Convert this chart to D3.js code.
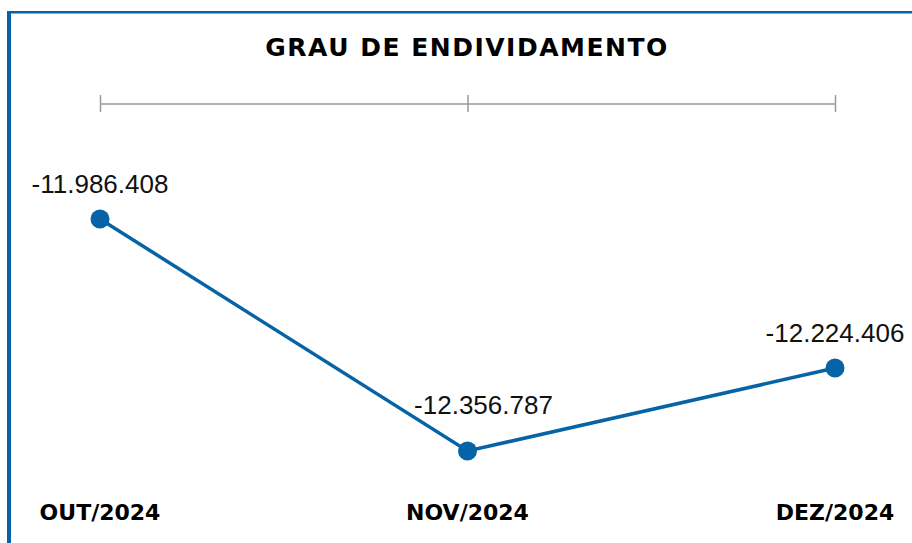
<!DOCTYPE html>
<html>
<head>
<meta charset="utf-8">
<script src="https://cdn.jsdelivr.net/npm/d3@7"></script>
<style>
    body { margin: 0; background: #fff; }
    svg { display: block; }
</style>
</head>
<body>
<div id="chart"></div>
<script>
// line chart: grau de endividamento, last three months

const categories = ["OUT/2024", "NOV/2024", "DEZ/2024"];
const values = [-11986408, -12356787, -12224406];
const title = "GRAU DE ENDIVIDAMENTO";

const width = 912;
const height = 543;
const blue = "#0563a6";
const boldFont = "'DejaVu Sans', sans-serif";
const labelFont = "'Liberation Sans', Arial, sans-serif";

// number format with dots as thousands separator (pt-BR)
const fmt = d3.formatLocale({ decimal: ",", thousands: ".", grouping: [3], currency: ["R$", ""], minus: "-" }).format(",d");

let svg = d3.select('#chart')
    .append('svg')
    .attr('width', width)
    .attr('height', height);

//Frame: blue lines on left and top
svg.append('rect')
    .attr('x', 7)
    .attr('y', 11)
    .attr('width', 4)
    .attr('height', height - 11)
    .attr('fill', blue);

svg.append('rect')
    .attr('x', 7)
    .attr('y', 11)
    .attr('width', width - 7)
    .attr('height', 2.5)
    .attr('fill', blue);

//Title
svg.append('text')
    .attr('x', 467)
    .attr('y', 56)
    .attr('text-anchor', 'middle')
    .attr('font-family', boldFont)
    .attr('font-weight', 'bold')
    .attr('font-size', '25px')
    .attr('letter-spacing', '1.5px')
    .attr('fill', '#000')
    .text(title);

//Scales
let xScale = d3.scalePoint()
    .domain(categories)
    .range([100, 835]);

let yScale = d3.scaleLinear()
    .domain(d3.extent(values))
    .range([451, 219]);

//Axis at the top, ticks crossing the line
let xAxis = d3.axisBottom(xScale)
    .tickSizeOuter(0)
    .tickFormat("");

svg.append('g')
    .attr('transform', 'translate(0, 103.5)')
    .call(xAxis)
    .call(g => g.select('.domain').attr('stroke', '#999').attr('stroke-width', 1.5))
    .call(g => g.selectAll('.tick line')
        .attr('y1', -8.5)
        .attr('y2', 8.5)
        .attr('stroke', '#999')
        .attr('stroke-width', 1.5));

//Category labels at the bottom
svg.append('g')
    .selectAll('text')
    .data(categories)
    .join('text')
    .attr('x', d => xScale(d))
    .attr('y', 520)
    .attr('text-anchor', 'middle')
    .attr('font-family', boldFont)
    .attr('font-weight', 'bold')
    .attr('font-size', '22px')
    .attr('fill', '#000')
    .text(d => d);

//Line and points
let data = categories.map((c, i) => ({ cat: c, value: values[i] }));

let lineGenerator = d3.line()
    .x(d => xScale(d.cat))
    .y(d => yScale(d.value));

svg.append('path')
    .datum(data)
    .attr('d', lineGenerator)
    .attr('fill', 'none')
    .attr('stroke', blue)
    .attr('stroke-width', 3.5);

svg.append('g')
    .selectAll('circle')
    .data(data)
    .join('circle')
    .attr('cx', d => xScale(d.cat))
    .attr('cy', d => yScale(d.value))
    .attr('r', 9.5)
    .attr('fill', blue);

//Value labels above points (the middle one sits a bit off, as in the original)
svg.append('g')
    .selectAll('text')
    .data(data)
    .join('text')
    .attr('x', d => xScale(d.cat))
    .attr('y', d => yScale(d.value))
    .attr('dx', (d, i) => i === 1 ? 16 : 0)
    .attr('dy', (d, i) => i === 1 ? -37 : -26)
    .attr('text-anchor', 'middle')
    .attr('font-family', labelFont)
    .attr('font-size', '26px')
    .attr('fill', '#111')
    .text(d => fmt(d.value));
</script>
</body>
</html>
